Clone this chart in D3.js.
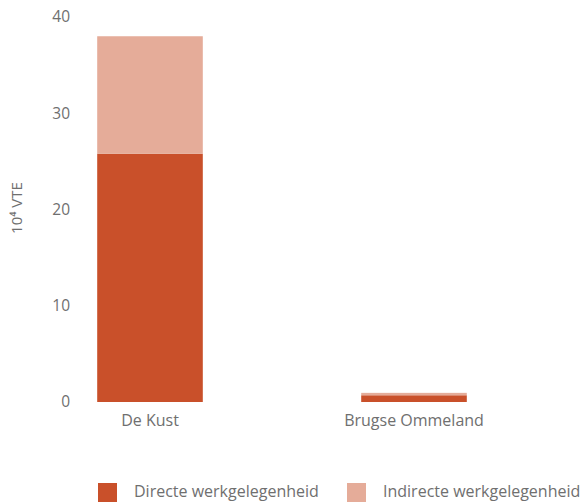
<!DOCTYPE html>
<html><head><meta charset="utf-8">
<script src="https://cdn.jsdelivr.net/npm/d3@7"></script>
<style>body{margin:0;background:#fff;} svg{display:block;} text{font-family:"Open Sans", Lato, sans-serif; fill:#6f6f6f;}</style>
</head><body>
<svg id="c" width="586" height="502"></svg>
<script>
const categories = ["De Kust", "Brugse Ommeland"];
const directe = [25.8, 0.7];
const indirecte = [12.2, 0.25];
const seriesNames = ["Directe werkgelegenheid", "Indirecte werkgelegenheid"];
const yTicks = [0, 10, 20, 30, 40];
const colors = ["#C9502A", "#E5AC99"];

const svg = d3.select("#c");
const x = d3.scaleBand().domain(categories).range([18, 546]).paddingInner(0.6).paddingOuter(0.3);
const y = d3.scaleLinear().domain([0, 40]).range([402, 17]);

const data = categories.map((c, i) => ({cat: c, Directe: directe[i], Indirecte: indirecte[i]}));
const stack = d3.stack().keys(["Directe", "Indirecte"])(data);

svg.append("g").selectAll("g").data(stack).join("g")
  .attr("fill", (d, i) => colors[i])
  .selectAll("rect").data(d => d).join("rect")
  .attr("x", d => x(d.data.cat))
  .attr("width", x.bandwidth())
  .attr("y", d => y(d[1]))
  .attr("height", d => y(d[0]) - y(d[1]));

const yAxis = svg.append("g").attr("transform", "translate(70,0)")
  .call(d3.axisLeft(y).tickValues(yTicks).tickSize(0).tickPadding(0));
yAxis.select(".domain").remove();
yAxis.selectAll("text").style("font-size", "15.5px").attr("fill", "#6f6f6f").attr("dy", "0.32em");

const xAxis = svg.append("g").attr("transform", "translate(0,402)")
  .call(d3.axisBottom(x).tickSize(0).tickPadding(13));
xAxis.select(".domain").remove();
xAxis.selectAll("text").style("font-size", "16px").attr("fill", "#6f6f6f");

svg.append("text").attr("transform", "translate(22,208) rotate(-90)")
  .attr("text-anchor", "middle").style("font-size", "15px")
  .text("10⁴ VTE");

const legX = [98, 347];
const leg = svg.append("g").selectAll("g").data(seriesNames).join("g")
  .attr("transform", (d, i) => `translate(${legX[i]},483)`);
leg.append("rect").attr("width", 19).attr("height", 19).attr("fill", (d, i) => colors[i]);
leg.append("text").attr("x", 36).attr("y", 14).style("font-size", "16px").text(d => d);
</script>
</body></html>
